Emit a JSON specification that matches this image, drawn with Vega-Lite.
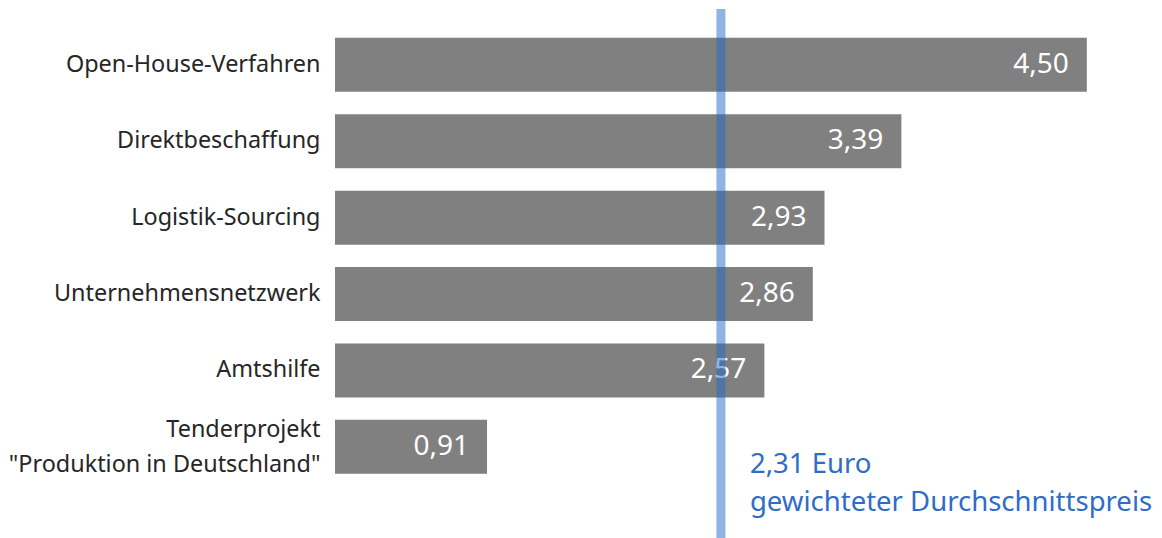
{
  "$schema": "https://vega.github.io/schema/vega-lite/v6.json",
  "autosize": "none",
  "width": 827,
  "height": 529,
  "padding": {"left": 335, "top": 9, "right": 0, "bottom": 0},
  "background": "white",
  "config": {
    "view": {"stroke": null},
    "font": "Noto Sans",
    "locale": {"number": {"decimal": ",", "thousands": ".", "grouping": [3], "currency": ["", " €"]}}
  },
  "datasets": {
    "bars": [
      {"kategorie": "Open-House-Verfahren", "preis": 4.50},
      {"kategorie": "Direktbeschaffung", "preis": 3.39},
      {"kategorie": "Logistik-Sourcing", "preis": 2.93},
      {"kategorie": "Unternehmensnetzwerk", "preis": 2.86},
      {"kategorie": "Amtshilfe", "preis": 2.57},
      {"kategorie": "Tenderprojekt|\"Produktion in Deutschland\"", "preis": 0.91}
    ],
    "avg": [
      {"kategorie": "Tenderprojekt|\"Produktion in Deutschland\"", "preis": 2.31, "text": ["2,31 Euro", "gewichteter Durchschnittspreis"]}
    ]
  },
  "encoding": {
    "y": {
      "field": "kategorie",
      "type": "nominal",
      "sort": null,
      "scale": {"paddingInner": 0.293, "paddingOuter": 0.6085, "align": 0.31},
      "axis": {
        "title": null,
        "ticks": false,
        "domain": false,
        "labelFontSize": 23.4,
        "labelColor": "#262626",
        "labelPadding": 15,
        "labelLimit": 0,
        "labelLineHeight": 35,
        "labelOffset": {"condition": {"test": "indexof(datum.value, '|') >= 0", "value": -17}, "value": 0},
        "labelExpr": "split(datum.label, '|')"
      }
    },
    "x": {
      "field": "preis",
      "type": "quantitative",
      "scale": {"domain": [0, 4.95], "nice": false},
      "axis": null
    }
  },
  "layer": [
    {
      "data": {"name": "bars"},
      "mark": {"type": "bar", "color": "#808080"}
    },
    {
      "data": {"name": "bars"},
      "mark": {"type": "text", "align": "right", "baseline": "middle", "dx": -18, "fontSize": 28, "color": "white"},
      "encoding": {"text": {"field": "preis", "type": "quantitative", "format": ".2f"}}
    },
    {
      "data": {"name": "avg"},
      "mark": {"type": "rule", "color": "#1F69C7", "opacity": 0.5, "strokeWidth": 9},
      "encoding": {"y": null}
    },
    {
      "data": {"name": "avg"},
      "mark": {"type": "text", "align": "left", "baseline": "alphabetic", "dx": 29, "dy": 26, "fontSize": 27.5, "lineHeight": 38, "color": "#2E6CC8"},
      "encoding": {"text": {"field": "text"}}
    }
  ]
}
